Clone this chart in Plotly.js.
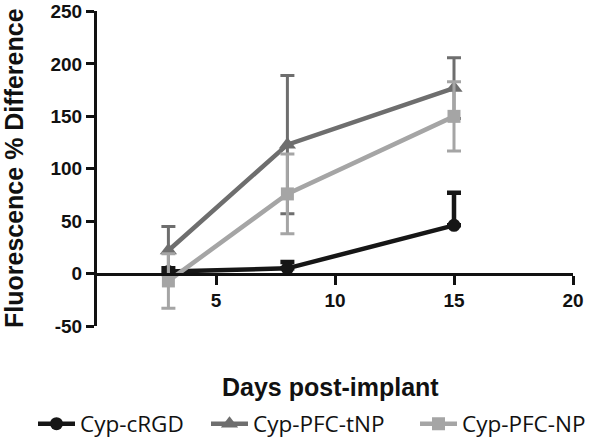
<!DOCTYPE html>
<html>
<head>
<meta charset="utf-8">
<script src="https://cdn.plot.ly/plotly-3.0.1.min.js"></script>
<style>html,body{margin:0;padding:0;background:#fff;}#chart{width:601px;height:441px;}</style>
</head>
<body>
<div id="chart"></div>
<script>
const days = [3, 8, 15];
const seriesNames = ["Cyp-cRGD", "Cyp-PFC-tNP", "Cyp-PFC-NP"];
const cRGD = [2, 5, 46];
const cRGDErrUp = [3, 6, 31];
const cRGDErrDown = [0, 0, 0];
const tNP = [22, 123, 177];
const tNPErr = [23, 66, 29];
const NP = [-7, 76, 150];
const NPErr = [26, 38, 33];
const xTicks = [5, 10, 15, 20];
const yTicks = [-50, 0, 50, 100, 150, 200, 250];

const colors = ["#161616", "#6e6e6e", "#a5a5a5"];
const symbols = ["circle", "triangle-up", "square"];
const ys = [cRGD, tNP, NP];
const errs = [
  {type: "data", array: cRGDErrUp, arrayminus: cRGDErrDown, symmetric: false, thickness: 4.5, width: 7, color: colors[0]},
  {type: "data", array: tNPErr, symmetric: true, thickness: 3, width: 7, color: colors[1]},
  {type: "data", array: NPErr, symmetric: true, thickness: 3, width: 7, color: colors[2]}
];
const legendIds = ["legend", "legend2", "legend3"];

const traces = seriesNames.map((n, i) => ({
  x: days, y: ys[i], name: n, type: "scatter", mode: "lines+markers",
  line: {color: colors[i], width: 4.5},
  marker: {symbol: symbols[i], size: i === 1 ? 15 : 13, color: colors[i]},
  error_y: errs[i],
  legend: legendIds[i]
}));

const legFont = {family: "Open Sans", size: 22.5, color: "#111"};
const legBase = {orientation: "h", xref: "container", yref: "container", yanchor: "middle", xanchor: "left", y: 17/441, font: legFont, bgcolor: "rgba(0,0,0,0)", borderwidth: 0, itemwidth: 37};
const tickFont = {family: "Liberation Sans", size: 19, color: "#111", weight: 700};

const layout = {
  width: 601, height: 441,
  margin: {l: 97, r: 28, t: 11, b: 115},
  paper_bgcolor: "#fff", plot_bgcolor: "#fff",
  showlegend: true,
  xaxis: {
    range: [0, 20], tickvals: xTicks, ticktext: xTicks.map(v => "<b>" + v + "</b>"),
    anchor: "free", position: 50/300.5,
    showline: true, linecolor: "#111", linewidth: 3,
    ticks: "outside", ticklen: 9, tickwidth: 3, tickcolor: "#111",
    showgrid: false, zeroline: false,
    tickfont: tickFont
  },
  yaxis: {
    range: [-50, 250.5], tickvals: yTicks, ticktext: yTicks.map(v => "<b>" + v + "</b>"),
    showline: true, linecolor: "#111", linewidth: 3,
    ticks: "outside", ticklen: 8, tickwidth: 3, tickcolor: "#111",
    showgrid: false, zeroline: false,
    tickfont: tickFont
  },
  legend: Object.assign({}, legBase, {x: 33/601}),
  legend2: Object.assign({}, legBase, {x: 206/601}),
  legend3: Object.assign({}, legBase, {x: 415/601}),
  annotations: [
    {text: "<b>Days post-implant</b>", xref: "paper", yref: "paper", x: 0.49, y: (441-387-115)/315, xanchor: "center", yanchor: "middle", showarrow: false,
     font: {family: "Liberation Sans", size: 25, color: "#111"}},
    {text: "<b>Fluorescence % Difference</b>", xref: "paper", yref: "paper", x: (14-97)/476, y: (441-115-168)/315, xanchor: "center", yanchor: "middle", textangle: -90, showarrow: false,
     font: {family: "Liberation Sans", size: 25, color: "#111"}}
  ]
};

Plotly.newPlot("chart", traces, layout, {displayModeBar: false, staticPlot: true});
</script>
</body>
</html>
